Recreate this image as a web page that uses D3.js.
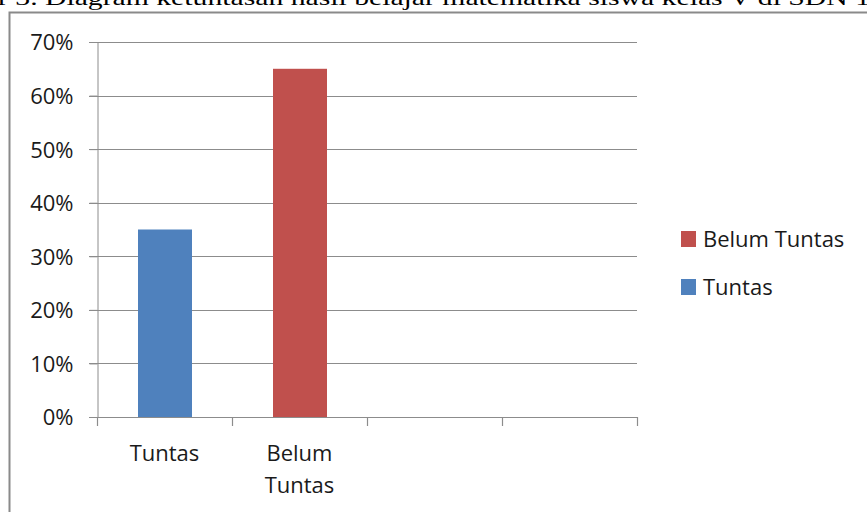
<!DOCTYPE html>
<html>
<head>
<meta charset="utf-8">
<script src="https://cdn.jsdelivr.net/npm/d3@7"></script>
<style>
  body { margin: 0; background: #fff; }
  svg { display: block; }
  text { font-family: "Open Sans", "Noto Sans", sans-serif; fill: #1a1a1a; }
</style>
</head>
<body>
<svg width="867" height="512"></svg>
<script>
// categories on the x axis (two empty slots, as in the original)
const categories = ["Tuntas", "Belum Tuntas", "", ""];
const seriesNames = ["Tuntas", "Belum Tuntas"];
const tuntasValues = [0.35, 0, 0, 0];
const belumValues = [0, 0.65, 0, 0];
const yTicks = [0, 0.1, 0.2, 0.3, 0.4, 0.5, 0.6, 0.7];
const colors = ["#4F81BD", "#C0504D"];
const captionText = "r 3. Diagram ketuntasan hasil belajar matematika siswa kelas V di SDN 1";

const svg = d3.select("svg");
const margin = { left: 97, top: 42, right: 230, bottom: 95 };

// caption from the page above, cut off at the top edge
svg.append("text")
  .attr("x", -2).attr("y", 5)
  .attr("textLength", 872)
  .attr("lengthAdjust", "spacingAndGlyphs")
  .style("font-family", "'Liberation Serif', 'DejaVu Serif', serif")
  .style("font-size", "22px")
  .style("fill", "#000")
  .text(captionText);

// chart frame (right and bottom fall outside the picture)
svg.append("rect")
  .attr("x", 9.5).attr("y", 12.5)
  .attr("width", 900).attr("height", 600)
  .attr("fill", "none")
  .attr("stroke", "#8a8a8a")
  .attr("stroke-width", 2);

const y = d3.scaleLinear()
  .domain([0, 0.7])
  .range([417, margin.top]);

// gridlines
svg.append("g")
  .selectAll("line")
  .data(yTicks)
  .join("line")
  .attr("x1", 89).attr("x2", 637)
  .attr("y1", d => Math.round(y(d)) + 0.5)
  .attr("y2", d => Math.round(y(d)) + 0.5)
  .attr("stroke", "#8c8c8c")
  .attr("stroke-width", 1.2);

// y axis
const yAxis = svg.append("g")
  .attr("transform", `translate(${margin.left + 0.5},0)`)
  .call(d3.axisLeft(y).tickValues(yTicks).tickFormat(d3.format(".0%")).tickSize(8).tickPadding(16));
yAxis.selectAll("path, line").attr("stroke", "#8c8c8c");
yAxis.selectAll("text")
  .style("font-size", "22px")
  .attr("dy", "0.36em")
  .attr("fill", "#1a1a1a");

// x axis: line with ticks on band boundaries
const bandW = (637 - margin.left) / categories.length;
svg.append("line")
  .attr("x1", margin.left).attr("x2", 637)
  .attr("y1", 417.5).attr("y2", 417.5)
  .attr("stroke", "#8c8c8c").attr("stroke-width", 1.2);
svg.append("g")
  .selectAll("line")
  .data(d3.range(categories.length + 1))
  .join("line")
  .attr("x1", i => Math.round(margin.left + i * bandW) + 0.5)
  .attr("x2", i => Math.round(margin.left + i * bandW) + 0.5)
  .attr("y1", 417).attr("y2", 426)
  .attr("stroke", "#8c8c8c").attr("stroke-width", 1.2);

// category labels (wrapped)
const catLabels = svg.append("g")
  .selectAll("text")
  .data(categories)
  .join("text")
  .attr("text-anchor", "middle")
  .style("font-size", "22px");
catLabels.each(function(d, i) {
  const cx = margin.left + (i + 0.5) * bandW;
  const words = d.split(" ").filter(w => w);
  d3.select(this).selectAll("tspan")
    .data(words)
    .join("tspan")
    .attr("x", cx)
    .attr("y", (w, j) => 461 + j * 32)
    .text(w => w);
});

// bars (stacked, one series per category)
const rows = categories.map((c, i) => ({ i, Tuntas: tuntasValues[i], "Belum Tuntas": belumValues[i] }));
const stack = d3.stack().keys(seriesNames)(rows);
const barW = bandW * 0.4;
svg.append("g")
  .selectAll("g")
  .data(stack)
  .join("g")
  .attr("fill", (d, k) => colors[k])
  .selectAll("rect")
  .data(d => d.filter(p => p[1] - p[0] > 0))
  .join("rect")
  .attr("x", p => margin.left + (p.data.i + 0.5) * bandW - barW / 2 + 0.5)
  .attr("width", barW)
  .attr("y", p => y(p[1]))
  .attr("height", p => y(p[0]) - y(p[1]));

// legend (reverse order, as stacked)
const legendItems = seriesNames.map((s, k) => ({ name: s, color: colors[k] })).reverse();
const legend = svg.append("g")
  .selectAll("g")
  .data(legendItems)
  .join("g")
  .attr("transform", (d, k) => `translate(681,${231 + k * 48})`);
legend.append("rect")
  .attr("width", 15).attr("height", 16)
  .attr("fill", d => d.color);
legend.append("text")
  .attr("x", 22).attr("y", 16)
  .style("font-size", "22px")
  .text(d => d.name);
</script>
</body>
</html>
